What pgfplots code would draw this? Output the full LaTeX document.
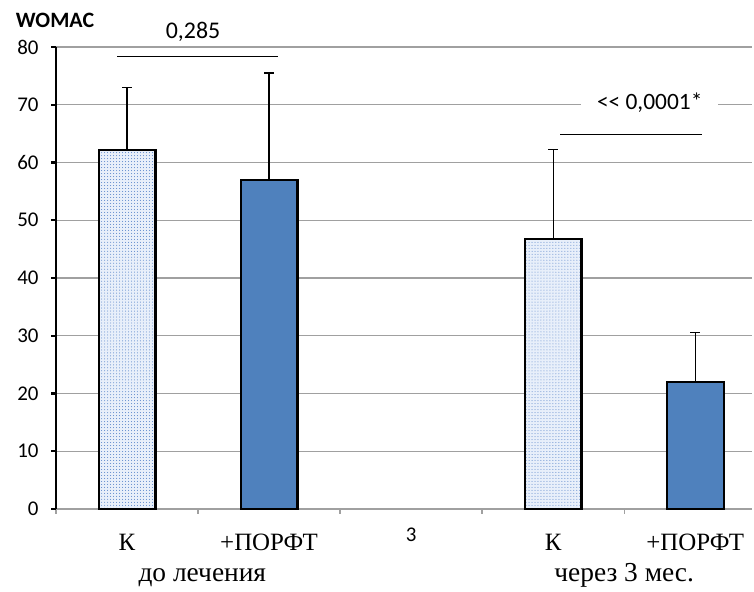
\documentclass[border=0pt]{standalone}
\usepackage{pgfplots}
\pgfplotsset{compat=1.18}
\usepackage{fontspec}
\setmainfont{Liberation Serif}
\newfontfamily\calib{Carlito}
\usetikzlibrary{patterns}
\definecolor{barblue}{RGB}{79,129,189}
\definecolor{dotblue}{RGB}{85,130,200}
\definecolor{dotbg}{RGB}{232,239,250}
\definecolor{gridgray}{RGB}{160,160,160}
\begin{document}
\begin{tikzpicture}
\begin{axis}[name=ax, scale only axis, width=696bp, height=462bp,
  xmin=-0.5, xmax=4.4, ymin=0, ymax=80,
  clip=false,
  axis lines*=left,
  x axis line style={gridgray, line width=1.3bp},
  y axis line style={black, line width=2.6bp},
  ytick={0,10,...,80},
  ymajorgrids, grid style={gridgray, line width=1.3bp},
  xtick={-0.5,0.5,...,3.5}, xticklabels={},
  tick align=outside, major tick length=5bp,
  x tick style={gridgray, line width=1.3bp},
  y tick style={black, line width=2.2bp},
  /pgf/number format/assume math mode=true,
  yticklabel style={font=\calib\fontsize{21}{21}\selectfont, xshift=-9bp},
  bar shift=0pt,
]
\addplot[ybar, bar width=0.4, draw=black, line width=2.2bp, fill=dotbg,
  postaction={pattern=dots, pattern color=dotblue},
  error bars/.cd, y dir=plus, y explicit,
  error bar style={line width=1.3bp, black},
  error mark options={rotate=90, mark size=5bp, line width=1.3bp, black}]
  table[x=x, y=y, y error=e] {
x y e
0 62.2 10.8
3 46.7 15.5
};
\addplot[ybar, bar width=0.4, draw=black, line width=2.2bp, fill=barblue,
  error bars/.cd, y dir=plus, y explicit,
  error bar style={line width=1.3bp, black},
  error mark options={rotate=90, mark size=5bp, line width=1.3bp, black}]
  table[x=x, y=y, y error=e] {
x y e
1 57.0 18.5
4 22.0 8.6
};
\draw[line width=1.3bp] (axis cs:-0.07,78.4) -- (axis cs:1.06,78.4);
\node[font=\calib\fontsize{24}{24}\selectfont] at (axis cs:0.465,82.6) {0,285};
\draw[line width=1.3bp] (axis cs:3.05,64.8) -- (axis cs:4.05,64.8);
\node[fill=white, inner xsep=16bp, font=\calib\fontsize{23.5}{23.5}\selectfont] at (axis cs:3.68,70.3) {<< 0,0001*};
\node[anchor=base, font=\fontsize{25}{25}\selectfont] at (axis cs:0,-7.1) {К};
\node[anchor=base, font=\fontsize{25}{25}\selectfont] at (axis cs:1,-7.1) {+ПОРФТ};
\node[anchor=base, font=\calib\fontsize{21}{21}\selectfont] at (axis cs:2,-5.7) {3};
\node[anchor=base, font=\fontsize{25}{25}\selectfont] at (axis cs:3,-7.1) {К};
\node[anchor=base, font=\fontsize{25}{25}\selectfont] at (axis cs:4,-7.1) {+ПОРФТ};
\node[anchor=base, font=\fontsize{27.5}{27.5}\selectfont] at (axis cs:0.53,-12.64) {до лечения};
\node[anchor=base, font=\fontsize{27.5}{27.5}\selectfont] at (axis cs:3.5,-12.64) {через 3 мес.};
\node[anchor=base, font=\calib\bfseries\fontsize{22}{22}\selectfont] at (axis cs:-0.507,83.45) {WOMAC};
\end{axis}
\pgfresetboundingbox
\path ([xshift=-56bp,yshift=-83bp]ax.south west) rectangle ([xshift=2bp,yshift=47bp]ax.north east);
\end{tikzpicture}
\end{document}
